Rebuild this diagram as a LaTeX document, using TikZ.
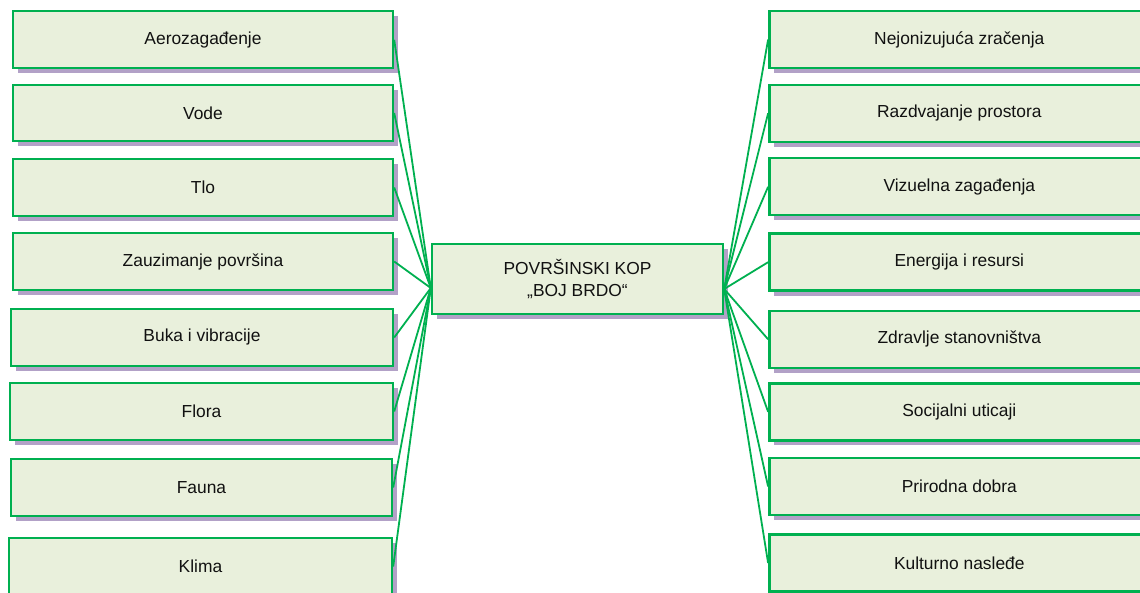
\documentclass[tikz,border=0pt]{standalone}
\usepackage{fontspec}
\setmainfont{Liberation Sans}
\usetikzlibrary{shadows,calc}
\definecolor{boxgreen}{HTML}{00B050}
\definecolor{boxfill}{HTML}{E9F0DC}
\definecolor{shadowcol}{HTML}{B2A1C7}
\definecolor{txt}{HTML}{111111}
\begin{document}
\begin{tikzpicture}[x=1pt,y=-1pt,
  box/.style={draw=boxgreen, line width=2.4pt, fill=boxfill, minimum height=57pt,
    minimum width=380pt, inner sep=0pt, text=txt, align=center,
    font=\fontsize{17.4}{22}\selectfont,
    drop shadow={shadow xshift=5pt, shadow yshift=-5pt, fill=shadowcol, opacity=1}},
  link/.style={draw=boxgreen, line width=1.8pt}]
\useasboundingbox (0,0) rectangle (1140,593);
\clip (0,0) rectangle (1140,593);

% left column
\node[box] (l1) at (203,39.8) {Aerozagađenje};
\node[box, minimum height=56pt] (l2) at (203,113) {Vode};
\node[box] (l3) at (203,187.5) {Tlo};
\node[box] (l4) at (203,261.5) {Zauzimanje površina};
\node[box, minimum width=382pt] (l5) at (202,337.5) {Buka i vibracije};
\node[box, minimum width=383pt] (l6) at (201.5,411.5) {Flora};
\node[box, minimum width=381pt] (l7) at (201.5,487.5) {Fauna};
\node[box, minimum width=383pt] (l8) at (200.5,566.5) {Klima};

% right column
\node[box] (r1) at (959.3,39.6) {Nejonizujuća zračenja};
\node[box] (r2) at (959.3,113.3) {Razdvajanje prostora};
\node[box] (r3) at (959.3,186.8) {Vizuelna zagađenja};
\node[box] (r4) at (959.3,262.2) {Energija i resursi};
\node[box] (r5) at (959.3,339.3) {Zdravlje stanovništva};
\node[box] (r6) at (959.3,411.8) {Socijalni uticaji};
\node[box] (r7) at (959.3,486.5) {Prirodna dobra};
\node[box] (r8) at (959.3,563) {Kulturno nasleđe};

% centre
\node[box, minimum width=291pt, minimum height=70pt] (c) at (577.5,279) {POVRŠINSKI KOP\\„BOJ BRDO“};
\coordinate (cl) at ($(c.west)+(0,9)$);
\coordinate (cr) at ($(c.east)+(0,10)$);

\foreach \i in {1,...,8}{
  \draw[link] (cl) -- (l\i.east);
  \draw[link] (cr) -- (r\i.west);
}
\end{tikzpicture}
\end{document}
